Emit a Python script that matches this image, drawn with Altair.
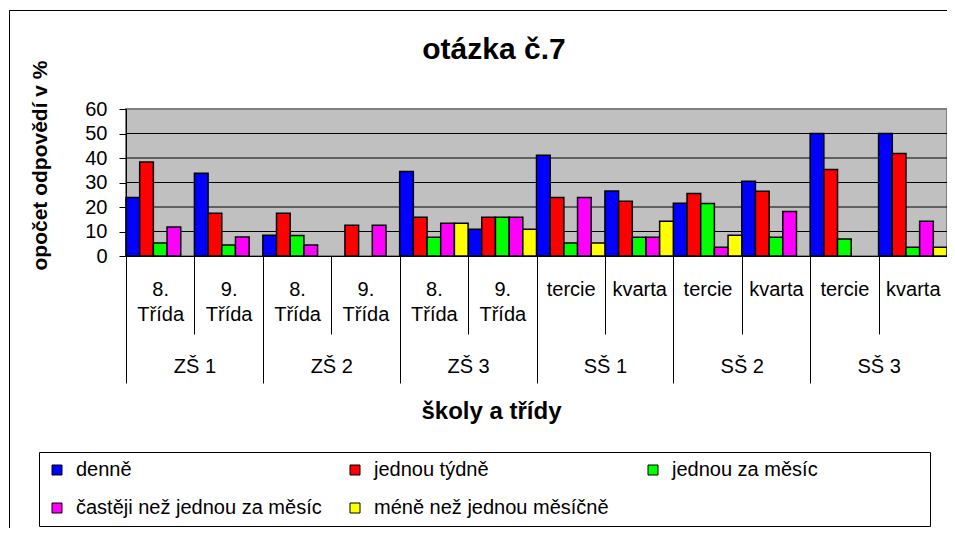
import altair as alt
import pandas as pd

# ---------------- data ----------------
schools = ["ZŠ 1", "ZŠ 2", "ZŠ 3", "SŠ 1", "SŠ 2", "SŠ 3"]
classes = ["8. Třída", "9. Třída", "8. Třída", "9. Třída", "8. Třída", "9. Třída",
           "tercie", "kvarta", "tercie", "kvarta", "tercie", "kvarta"]
series = ["denně", "jednou týdně", "jednou za měsíc",
          "častěji než jednou za měsíc", "méně než jednou měsíčně"]
colors = ["#0000FF", "#FF0000", "#00FF00", "#FF00FF", "#FFFF00"]

denne = [23.9, 33.8, 8.5, 0, 34.5, 10.9, 41.1, 26.5, 21.5, 30.5, 50.0, 50.0]
tydne = [38.4, 17.4, 17.4, 12.6, 15.8, 15.8, 23.9, 22.3, 25.5, 26.4, 35.3, 41.8]
za_mesic = [5.3, 4.5, 8.4, 0, 7.7, 15.8, 5.3, 7.7, 21.4, 7.7, 6.9, 3.6]
casteji = [11.8, 7.8, 4.5, 12.6, 13.4, 15.8, 23.9, 7.7, 3.6, 18.2, 0, 14.2]
mene = [0, 0, 0, 0, 13.4, 10.9, 5.3, 14.2, 8.5, 0, 0, 3.6]

y_ticks = [0, 10, 20, 30, 40, 50, 60]
grid_values = [10, 20, 30, 40, 50]

title_text = "otázka č.7"
y_title = "opočet odpovědí v %"
x_title = "školy a třídy"

# ---------------- table ----------------
school_of = [s for s in schools for _ in range(2)]
cats = [f"{s}|{c}" for s, c in zip(school_of, classes)]
series_values = [denne, tydne, za_mesic, casteji, mene]
rows = []
for s, vals in zip(series, series_values):
    for c, v in zip(cats, vals):
        rows.append({"cat": c, "series": s, "value": v})
df = pd.DataFrame(rows)

W, H = 938, 518
X_RANGE = [117, 938]
yscale = alt.Scale(domain=[0, 60], range=[246, 99], nice=False)
lin = alt.Scale(domain=[0, 1], range=X_RANGE, nice=False, zero=False)

y_axis = alt.Axis(
    orient="left", offset=-117, values=y_ticks, grid=False, zindex=1,
    title=y_title, titleFontSize=21, titleFontWeight="bold", titleColor="black",
    titleX=-86, titleY=155, titleAngle=270, titleAlign="center", titleBaseline="middle",
    tickSize=7, tickColor="black", domainColor="black",
    labelPadding=12, labelFontSize=20, labelColor="black",
)

bg = alt.Chart(pd.DataFrame({"k": [0]})).mark_rect(
    fill="#C0C0C0", stroke="#808080", strokeWidth=2
).encode(
    x=alt.XDatum(0, type="quantitative", scale=lin, axis=None),
    x2=alt.X2Datum(1),
    y=alt.YDatum(0, type="quantitative", scale=yscale, axis=y_axis),
    y2=alt.Y2Datum(60),
)

grid = alt.Chart(pd.DataFrame({"g": grid_values})).mark_rule(
    color="black", strokeWidth=1
).encode(
    y=alt.Y("g:Q", scale=yscale, axis=y_axis),
    x=alt.XDatum(0, type="quantitative", scale=lin, axis=None),
    x2=alt.X2Datum(1),
)

class_axis = alt.Axis(
    orient="bottom", offset=-(H - 246), title=None, grid=False, zindex=1,
    tickBand="extent", tickSize=78, tickColor="black", tickWidth=1,
    domainColor="black", domainWidth=1,
    labelPadding=-55, labelLineHeight=25, labelFontSize=20, labelColor="black",
    labelAngle=0, labelOverlap=False,
    labelExpr="indexof(datum.label + '', '|') >= 0 ? split(split(datum.label, '|')[1], ' ') : ''",
)

legend = alt.Legend(
    title="\u2800" * 5, titleOrient="right", titlePadding=29, titleFontSize=20,
    titleColor="white",
    orient="none", legendX=30, legendY=442, columns=3, direction="horizontal",
    gridAlign="all", columnPadding=23, rowPadding=18, padding=8,
    strokeColor="black", fillColor="white",
    symbolType="square", symbolSize=100, symbolStrokeColor="black", symbolStrokeWidth=1,
    labelOffset=9, labelFontSize=20, labelColor="black", labelLimit=400,
)

bars = alt.Chart(df).transform_filter("datum.value > 0").mark_bar(
    stroke="black", strokeWidth=1.5
).encode(
    x=alt.X("cat:N", sort=cats,
            scale=alt.Scale(domain=cats, range=X_RANGE, paddingInner=0, paddingOuter=0),
            axis=class_axis),
    xOffset=alt.XOffset("series:N", sort=series,
                        scale=alt.Scale(domain=series, paddingInner=0, paddingOuter=0)),
    y=alt.Y("value:Q", scale=yscale, axis=y_axis),
    color=alt.Color("series:N", sort=series,
                    scale=alt.Scale(domain=series, range=colors), legend=legend),
)

school_axis = alt.Axis(
    orient="bottom", offset=-(H - 246), grid=False, zindex=1, domain=False,
    tickBand="extent", tickSize=127, tickColor="black", tickWidth=1,
    labelPadding=-27, labelFontSize=20, labelColor="black", labelAngle=0,
    labelOverlap=False,
    title=x_title, titleFontSize=24, titleFontWeight="bold", titleColor="black",
    titleX=482, titleY=155, titleAlign="center", titleBaseline="middle",
)

school_layer = alt.Chart(pd.DataFrame({"school": schools})).mark_point(opacity=0).encode(
    x=alt.X("school:N", sort=schools,
            scale=alt.Scale(domain=schools, range=X_RANGE, paddingInner=0, paddingOuter=0),
            axis=school_axis),
    y=alt.YDatum(0, type="quantitative", scale=yscale, axis=y_axis),
)

chart = alt.layer(bg, grid, bars, school_layer).resolve_scale(
    x="independent"
).properties(
    width=W, height=H,
    title=alt.TitleParams(title_text, fontSize=30, fontWeight="bold", color="black",
                          anchor="middle", frame="group", offset=0, dx=16, dy=79,
                          baseline="alphabetic"),
    autosize=alt.AutoSizeParams(type="none"),
    padding={"left": 1, "top": 2, "right": 0, "bottom": 0},
).configure(
    font="Liberation Sans", background="white"
).configure_view(
    stroke="black", strokeWidth=1, fill="white",
    strokeDash=[W, W + H, H],
)

chart.save("out.html", embed_options={"renderer": "svg", "actions": False})
